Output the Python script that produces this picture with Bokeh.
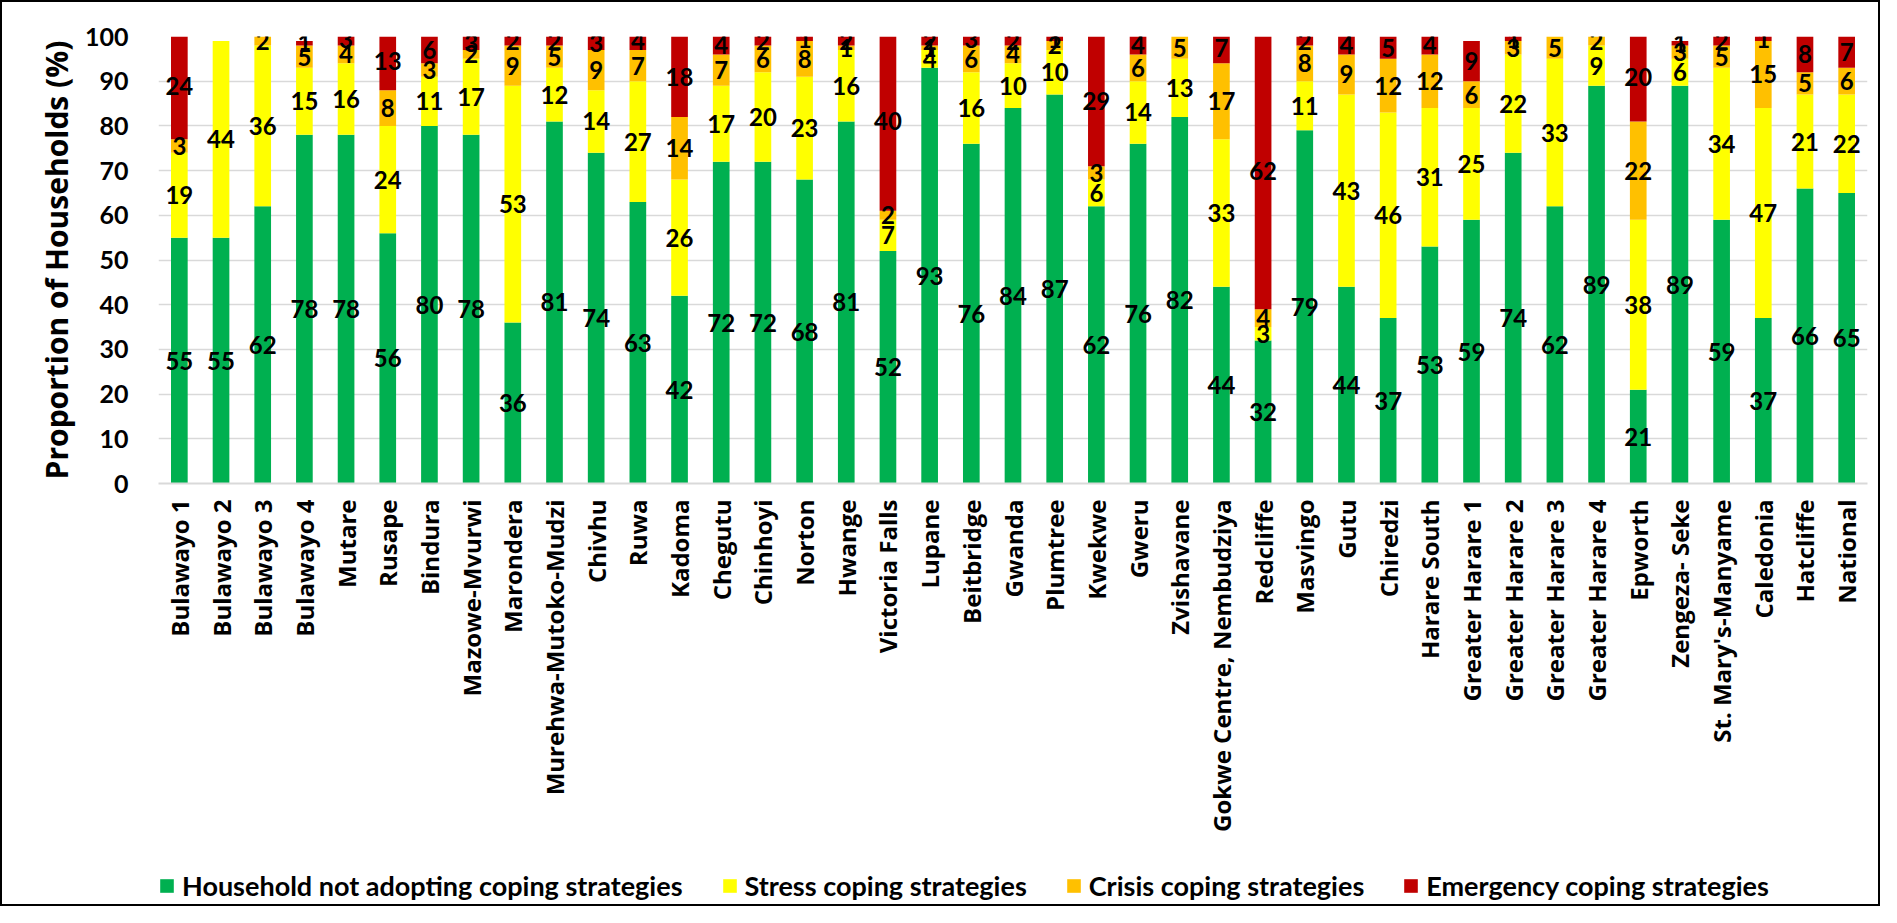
import math
from bokeh.plotting import figure
from bokeh.layouts import column
from bokeh.models import (ColumnDataSource, FactorRange, LabelSet, FixedTicker, Legend,
                          LegendItem, Range1d)
from bokeh.core.properties import value
from bokeh.embed import file_html
from bokeh.resources import INLINE

districts = [
    "Bulawayo 1", "Bulawayo 2", "Bulawayo 3", "Bulawayo 4", "Mutare", "Rusape",
    "Bindura", "Mazowe-Mvurwi", "Marondera", "Murehwa-Mutoko-Mudzi", "Chivhu",
    "Ruwa", "Kadoma", "Chegutu", "Chinhoyi", "Norton", "Hwange", "Victoria Falls",
    "Lupane", "Beitbridge", "Gwanda", "Plumtree", "Kwekwe", "Gweru", "Zvishavane",
    "Gokwe Centre, Nembudziya", "Redcliffe", "Masvingo", "Gutu", "Chiredzi",
    "Harare South", "Greater Harare 1", "Greater Harare 2", "Greater Harare 3",
    "Greater Harare 4", "Epworth", "Zengeza- Seke", "St. Mary's-Manyame",
    "Caledonia", "Hatcliffe", "National",
]
not_adopting = [55, 55, 62, 78, 78, 56, 80, 78, 36, 81, 74, 63, 42, 72, 72, 68, 81, 52,
                93, 76, 84, 87, 62, 76, 82, 44, 32, 79, 44, 37, 53, 59, 74, 62, 89, 21,
                89, 59, 37, 66, 65]
stress = [19, 44, 36, 15, 16, 24, 11, 17, 53, 12, 14, 27, 26, 17, 20, 23, 16, 7,
          4, 16, 10, 10, 6, 14, 13, 33, 3, 11, 43, 46, 31, 25, 22, 33, 9, 38,
          6, 34, 47, 21, 22]
crisis = [3, 0, 2, 5, 4, 8, 3, 2, 9, 5, 9, 7, 14, 7, 6, 8, 1, 2,
          1, 6, 4, 2, 3, 6, 5, 17, 4, 8, 9, 12, 12, 6, 3, 5, 2, 22,
          3, 5, 15, 5, 6]
emergency = [24, 0, 0, 1, 3, 13, 6, 3, 2, 2, 3, 4, 18, 4, 2, 1, 2, 40,
             2, 3, 2, 1, 29, 4, 0, 7, 62, 2, 4, 5, 4, 9, 1, 0, 0, 20,
             1, 2, 1, 8, 7]
series_names = [
    "Household not adopting coping strategies",
    "Stress coping strategies",
    "Crisis coping strategies",
    "Emergency coping strategies",
]
y_ticks = [0, 10, 20, 30, 40, 50, 60, 70, 80, 90, 100]
y_title = "Proportion of Households (%)"

colors = ["#00B050", "#FFFF00", "#FFC000", "#C00000"]
keys = ["not_adopting", "stress", "crisis", "emergency"]
series = [not_adopting, stress, crisis, emergency]

source = ColumnDataSource(dict(district=districts, not_adopting=not_adopting,
                               stress=stress, crisis=crisis, emergency=emergency))

# label positions (segment centres) computed from the series
lx, ly, lt = [], [], []
for i, d in enumerate(districts):
    base = 0
    for s in series:
        v = s[i]
        if v > 0:
            lx.append(d)
            ly.append(base + v / 2)
            lt.append(str(v))
        base += v
lab_src = ColumnDataSource(dict(x=lx, y=ly, t=lt))

p = figure(
    x_range=FactorRange(*districts, range_padding=0),
    y_range=(0, 100),
    width=1880, height=843,
    output_backend="svg", toolbar_location=None,
    min_border_left=158, min_border_right=13,
    min_border_top=36, min_border_bottom=360,
)
p.outline_line_color = None
p.background_fill_color = "white"
p.border_fill_alpha = 0

renderers = p.vbar_stack(keys, x="district", width=0.4, source=source,
                         fill_color=colors, line_color=None)

labels = LabelSet(x="x", y="y", text="t", source=lab_src,
                  text_align="center", text_baseline="middle",
                  text_font=value("Lato"), text_font_style="bold",
                  text_font_size="24px", text_color="black")
p.add_layout(labels)

# axes
p.yaxis.ticker = FixedTicker(ticks=y_ticks)
p.yaxis.axis_line_color = None
p.yaxis.major_tick_line_color = None
p.yaxis.minor_tick_line_color = None
p.yaxis.major_tick_out = 0
p.yaxis.major_label_standoff = 30
p.yaxis.major_label_text_font = "Lato"
p.yaxis.major_label_text_font_style = "bold"
p.yaxis.major_label_text_font_size = "25px"
p.yaxis.major_label_text_color = "black"
p.yaxis.axis_label = y_title
p.yaxis.axis_label_text_font = "Open Sans"
p.yaxis.axis_label_text_font_style = "bold"
p.yaxis.axis_label_text_font_size = "30px"
p.yaxis.axis_label_text_color = "black"
p.yaxis.axis_label_standoff = 5

p.xaxis.major_label_orientation = math.pi / 2
p.xaxis.major_label_text_font = "Open Sans"
p.xaxis.major_label_text_font_style = "bold"
p.xaxis.major_label_text_font_size = "24px"
p.xaxis.major_label_text_color = "black"
p.xaxis.major_tick_line_color = None
p.xaxis.major_tick_out = 0
p.xaxis.major_label_standoff = 16
p.xaxis.axis_line_color = "#D9D9D9"
p.xaxis.axis_line_width = 2

p.xgrid.grid_line_color = None
p.ygrid.grid_line_color = "#D9D9D9"
p.ygrid.grid_line_width = 1.5

# legend strip underneath (its own small figure; zero-size swatch renderers)
p2 = figure(width=1880, height=63, x_range=Range1d(0, 1), y_range=Range1d(0, 1),
            output_backend="svg", toolbar_location=None,
            x_axis_location=None, y_axis_location=None,
            min_border=0, min_border_left=0, min_border_right=0,
            min_border_top=0, min_border_bottom=0)
p2.grid.visible = False
p2.outline_line_color = None
p2.background_fill_alpha = 0
p2.border_fill_alpha = 0
swatches = [p2.vbar(x=[0.5], bottom=[0], top=[0], width=0, fill_color=c, line_color=None)
            for c in colors]
items = [LegendItem(label=n, renderers=[r]) for n, r in zip(series_names, swatches)]
lg = Legend(items=items, orientation="horizontal", location=(0, 4))
lg.glyph_width = 17
lg.glyph_height = 17
lg.label_standoff = 7
lg.spacing = 38
lg.padding = 0
lg.margin = 0
lg.border_line_color = None
lg.background_fill_alpha = 0
lg.label_text_font = "Lato"
lg.label_text_font_style = "bold"
lg.label_text_font_size = "27px"
lg.label_text_color = "black"
p2.add_layout(lg)

layout = column(p, p2, spacing=0)
layout.styles = {"outline": "2px solid #000000", "outline-offset": "-2px"}

open("out.html", "w").write(file_html(layout, INLINE))
